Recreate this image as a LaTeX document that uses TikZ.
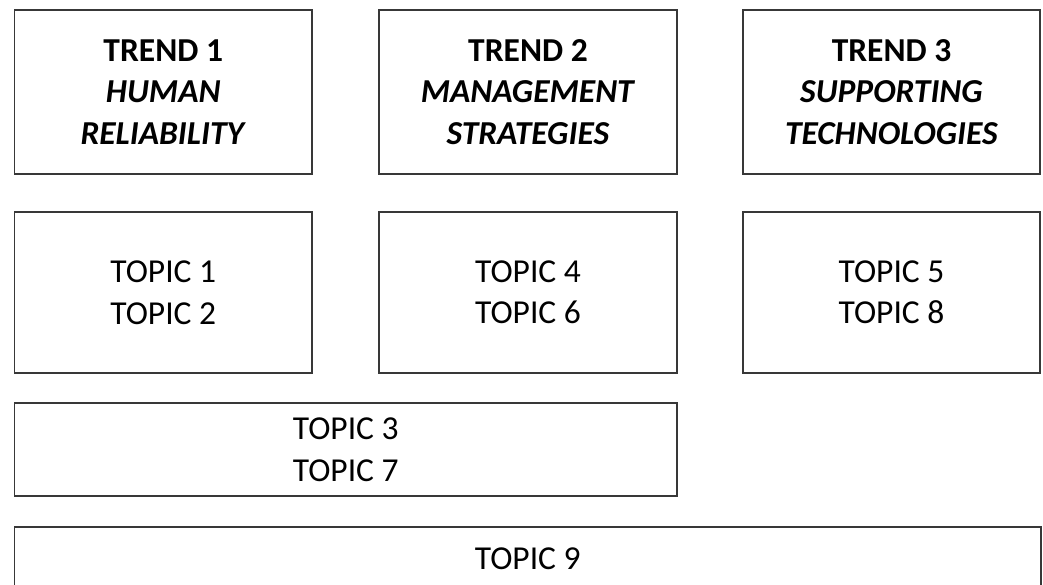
\documentclass[tikz,border=0pt]{standalone}
\usepackage{fontspec}
\setmainfont{Carlito}
\begin{document}
\begin{tikzpicture}[x=1pt,y=-1pt,
  box/.style={draw=black!78,line width=1.8pt,inner sep=0pt,align=center,
    font=\fontsize{33.5}{41.5}\selectfont},
  wide/.style={minimum width=297.5pt},
  tall/.style={minimum height=164pt},
  mid/.style={minimum height=161pt}]
\useasboundingbox (0,0) rectangle (1043,585);
\fill[white] (0,0) rectangle (1043,585);
\clip (0,0) rectangle (1043,585);
\node[box,wide,tall] (t1) at (163.25,92) {\textbf{TREND 1}\\\textbf{\textit{HUMAN}}\\\textbf{\textit{RELIABILITY}}};
\node[box,wide,tall] (t2) at (528,92) {\textbf{TREND 2}\\\textbf{\textit{MANAGEMENT}}\\\textbf{\textit{STRATEGIES}}};
\node[box,minimum width=297pt,tall] (t3) at (891.5,92) {\textbf{TREND 3}\\\textbf{\textit{SUPPORTING}}\\\textbf{\textit{TECHNOLOGIES}}};
\node[box,wide,mid] (p1) at (163.25,292.5) {TOPIC 1\\TOPIC 2};
\node[box,wide,mid] (p2) at (528,292.5) {TOPIC 4\\TOPIC 6};
\node[box,minimum width=297pt,mid] (p3) at (891.5,292.5) {TOPIC 5\\TOPIC 8};
\node[box,minimum width=662.5pt,minimum height=93pt] (p4) at (345.75,449.5) {TOPIC 3\\TOPIC 7};
\node[box,minimum width=1026.5pt,minimum height=63pt] (p5) at (527.75,558.5) {TOPIC 9};
\end{tikzpicture}
\end{document}
